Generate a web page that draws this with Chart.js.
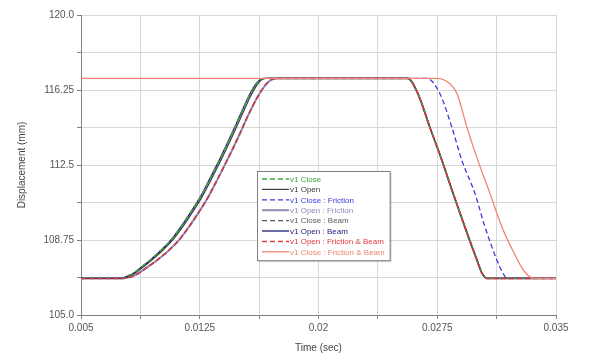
<!DOCTYPE html>
<html>
<head>
<meta charset="utf-8">
<script src="https://cdn.jsdelivr.net/npm/chart.js@4/dist/chart.umd.min.js"></script>
<style>
  html, body { margin: 0; padding: 0; background: #fff; }
  #wrap { position: relative; width: 615px; height: 356px; }
</style>
</head>
<body>
<div id="wrap"><canvas id="c" width="615" height="356"></canvas></div>
<script>
// series names (legend order)
const seriesNames = [
  "v1 Close", "v1 Open", "v1 Close : Friction", "v1 Open : Friction",
  "v1 Close : Beam", "v1 Open : Beam", "v1 Open : Friction & Beam", "v1 Close : Friction & Beam"
];

// tick positions
const xTicks = [0.005, 0.00875, 0.0125, 0.01625, 0.02, 0.02375, 0.0275, 0.03125, 0.035];
const xTickLabels = ["0.005", "", "0.0125", "", "0.02", "", "0.0275", "", "0.035"];
const yTicks = [105, 106.875, 108.75, 110.625, 112.5, 114.375, 116.25, 118.125, 120];
const yTickLabels = ["105.0", "", "108.75", "", "112.5", "", "116.25", "", "120.0"];

// opening stroke (rise)
const riseY      = [106.83, 106.83, 106.99, 107.34, 107.74, 108.19, 108.69, 109.34, 110.08, 110.88, 111.83, 112.82, 113.87, 114.97, 115.86, 116.41, 116.76, 116.83];
const riseEarlyT = [0.005, 0.00746, 0.00809, 0.00873, 0.00936, 0.00999, 0.01062, 0.01125, 0.01188, 0.01252, 0.01315, 0.01378, 0.01441, 0.01504, 0.01555, 0.01593, 0.0163, 0.01662];
const riseOpenT  = [0.005, 0.00755, 0.00818, 0.00883, 0.00946, 0.01010, 0.01073, 0.01136, 0.01199, 0.01263, 0.01326, 0.01389, 0.01452, 0.01515, 0.01566, 0.01604, 0.01641, 0.01672];
const riseLateT  = [0.005, 0.00762, 0.00841, 0.0091, 0.0098, 0.01049, 0.01113, 0.01176, 0.01239, 0.01302, 0.01365, 0.01428, 0.01492, 0.01555, 0.01612, 0.01656, 0.01701, 0.01745];

// closing stroke (fall)
const fallEarlyT = [0.02565, 0.02628, 0.02704, 0.0278, 0.0285, 0.02925, 0.03001, 0.03033, 0.03065, 0.035];
const fallEarlyY = [116.83, 116.06, 114.37, 112.72, 111.08, 109.39, 107.74, 107.09, 106.83, 106.83];
const fallFricT  = [0.02685, 0.02767, 0.02843, 0.02906, 0.02988, 0.03052, 0.03127, 0.03165, 0.03191, 0.035];
const fallFricY  = [116.83, 116.06, 114.37, 112.72, 111.08, 109.39, 107.74, 107.09, 106.83, 106.83];
const fallBothT  = [0.005, 0.02748, 0.0283, 0.02875, 0.02938, 0.03007, 0.03083, 0.03159, 0.03235, 0.03298, 0.03361, 0.035];
const fallBothY  = [116.83, 116.83, 116.56, 116.06, 114.37, 112.72, 111.08, 109.39, 108.1, 107.2, 106.83, 106.83];

const colors = ["#3aa63a", "#3c3c3c", "#3b3bdc", "#8c8cb4", "#5a5a5a", "#1c1c78", "#e03a3a", "#f28470"];
const dashes = [[5, 3], [], [5, 3], [], [5, 3], [], [5, 3], []];
const widths = [1.3, 1.2, 1.3, 2, 1.3, 1.3, 1.5, 1.3];

const pts = (t, y) => t.map((v, i) => ({ x: v, y: y[i] }));

const curves = [
  pts(riseEarlyT, riseY).concat(pts(fallEarlyT, fallEarlyY)),
  pts(riseOpenT, riseY).concat(pts(fallEarlyT, fallEarlyY)),
  pts(riseLateT, riseY).concat(pts(fallFricT, fallFricY)),
  pts(riseLateT, riseY).concat(pts(fallEarlyT, fallEarlyY)),
  pts(riseEarlyT, riseY).concat(pts(fallEarlyT, fallEarlyY)),
  pts(riseEarlyT, riseY).concat(pts(fallEarlyT, fallEarlyY)),
  pts(riseLateT, riseY).concat(pts(fallEarlyT, fallEarlyY)),
  pts(fallBothT, fallBothY)
];
// lower order is drawn on top
const drawOrder = [3, 5, 2, 7, 4, 6, 1, 0];

// legend box drawn inside the plot
const boxLegend = {
  id: "boxLegend",
  afterDraw(chart) {
    const ctx = chart.ctx;
    const x0 = 257, y0 = 171, rowH = 10.4;
    ctx.save();
    ctx.font = "8px 'Liberation Sans', Arial, sans-serif";
    let tw = 0;
    seriesNames.forEach((n) => (tw = Math.max(tw, ctx.measureText(n).width)));
    const w = 34 + tw + 4, h = rowH * 8 + 6;
    ctx.fillStyle = "rgba(0,0,0,0.15)";
    ctx.fillRect(x0 + 2, y0 + 2, w, h);
    ctx.fillStyle = "#fff";
    ctx.fillRect(x0, y0, w, h);
    ctx.strokeStyle = "#808080";
    ctx.lineWidth = 1;
    ctx.strokeRect(x0 + 0.5, y0 + 0.5, w, h);
    seriesNames.forEach((n, i) => {
      const yy = y0 + 8 + i * rowH;
      ctx.strokeStyle = colors[i];
      ctx.lineWidth = widths[i];
      ctx.setLineDash(dashes[i]);
      ctx.beginPath();
      ctx.moveTo(x0 + 5, yy);
      ctx.lineTo(x0 + 32, yy);
      ctx.stroke();
      ctx.setLineDash([]);
      ctx.fillStyle = colors[i];
      ctx.textBaseline = "middle";
      ctx.fillText(n, x0 + 33, yy + 0.5);
    });
    ctx.restore();
  }
};

new Chart(document.getElementById("c"), {
  type: "line",
  data: {
    datasets: seriesNames.map((n, i) => ({
      label: n,
      data: curves[i],
      borderColor: colors[i],
      borderWidth: widths[i],
      borderDash: dashes[i],
      pointRadius: 0,
      fill: false,
      cubicInterpolationMode: "monotone",
      order: drawOrder[i]
    }))
  },
  options: {
    responsive: false,
    animation: false,
    layout: { padding: { top: 15, right: 59, bottom: 2, left: 16 } },
    plugins: { legend: { display: false }, tooltip: { enabled: false } },
    scales: {
      x: {
        type: "linear", min: 0.005, max: 0.035,
        afterBuildTicks: (s) => { s.ticks = xTicks.map((v) => ({ value: v })); },
        ticks: {
          callback: (v, i) => xTickLabels[i],
          color: "#555", font: { family: "'Liberation Sans', Arial", size: 10 },
          maxRotation: 0, autoSkip: false, padding: 3
        },
        grid: { color: "#d8d8d8", tickColor: "#808080", tickLength: 4 },
        border: { color: "#808080", width: 1 },
        title: { display: true, text: "Time (sec)", color: "#444", font: { family: "'Liberation Sans', Arial", size: 10 }, padding: { top: 0, bottom: 0 } },
        afterFit: (s) => { s.height = 39; }
      },
      y: {
        type: "linear", min: 105, max: 120,
        afterBuildTicks: (s) => { s.ticks = yTicks.map((v) => ({ value: v })); },
        ticks: {
          callback: (v, i) => yTickLabels[i],
          color: "#555", font: { family: "'Liberation Sans', Arial", size: 10 },
          autoSkip: false, padding: 3
        },
        grid: { color: "#d8d8d8", tickColor: "#808080", tickLength: 4 },
        border: { color: "#808080", width: 1 },
        title: { display: true, text: "Displacement (mm)", color: "#444", font: { family: "'Liberation Sans', Arial", size: 10 }, padding: { top: 0, bottom: 4 } },
        afterFit: (s) => { s.width = 65; }
      }
    }
  },
  plugins: [boxLegend]
});
</script>
</body>
</html>
